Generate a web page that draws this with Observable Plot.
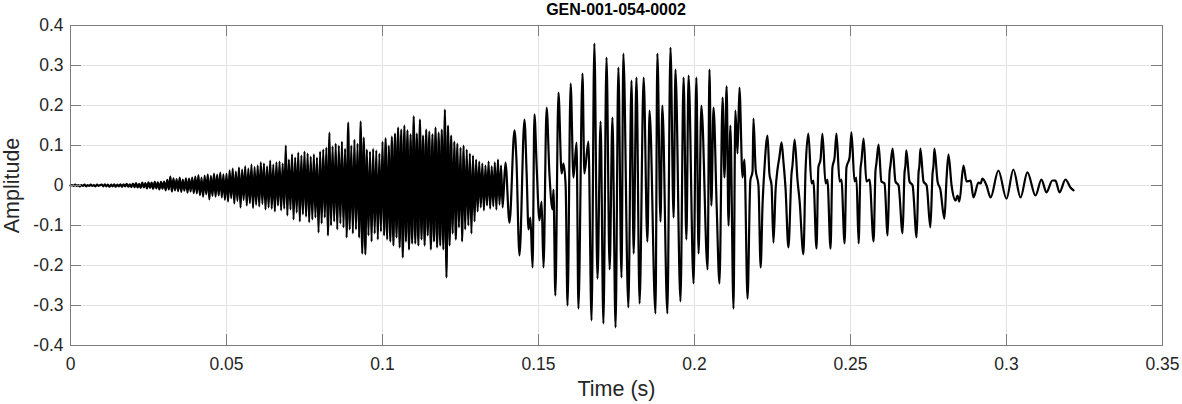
<!DOCTYPE html>
<html>
<head>
<meta charset="utf-8">
<script src="https://cdn.jsdelivr.net/npm/d3@7"></script>
<script src="https://cdn.jsdelivr.net/npm/@observablehq/plot@0.6"></script>
<style>
  body { margin: 0; background: #fff; font-family: "Liberation Sans", Arial, sans-serif; }
  #title { width: 1182px; height: 20px; line-height: 20px; padding-left: 50px; box-sizing: border-box;
           text-align: center; font-weight: bold; font-size: 16px; color: #000; position: relative; z-index: 1; }
  #chart svg { display: block; overflow: visible; }
</style>
</head>
<body>
<div id="title"></div>
<div id="chart"></div>
<script>
const chartTitle = "GEN-001-054-0002";
const xLabel = "Time (s)";
const yLabel = "Amplitude";

const xTicks = [0, 0.05, 0.1, 0.15, 0.2, 0.25, 0.3, 0.35];
const xTickLabels = ["0", "0.05", "0.1", "0.15", "0.2", "0.25", "0.3", "0.35"];
const yTicks = [-0.4, -0.3, -0.2, -0.1, 0, 0.1, 0.2, 0.3, 0.4];
const yTickLabels = ["-0.4", "-0.3", "-0.2", "-0.1", "0", "0.1", "0.2", "0.3", "0.4"];

// Unvoiced / noisy part: samples every 0.5 ms starting at t = 0
const noiseStep = 0.0005;
const noiseAmp = [
  0,0.001,-0.001,0.002,-0.001,0.001,-0.002,0.001,-0.001,0.002,-0.002,0.001,-0.001,0.002,-0.001,0.001,-0.002,0.002,-0.001,0.001,
  0.002,-0.002,0.003,-0.002,0.002,-0.003,0.002,-0.002,0.003,-0.003,0.002,-0.002,0.003,-0.003,0.003,-0.002,0.004,-0.003,0.003,-0.004,
  0.005,-0.004,0.006,-0.005,0.004,-0.006,0.007,-0.005,0.006,-0.007,0.008,-0.006,0.007,-0.008,0.009,-0.007,0.008,-0.010,0.009,-0.008,
  0.010,-0.012,0.014,-0.010,0.022,-0.015,0.018,-0.012,0.016,-0.014,0.020,-0.016,0.015,-0.013,0.018,-0.018,0.017,-0.015,0.020,-0.019,
  0.022,-0.020,0.026,-0.024,0.020,-0.028,0.025,-0.022,0.028,-0.035,0.024,-0.026,0.030,-0.028,0.027,-0.025,0.032,-0.030,0.028,-0.036,
  0.030,-0.040,0.038,-0.032,0.042,-0.045,0.035,-0.038,0.045,-0.055,0.040,-0.036,0.048,-0.050,0.042,-0.044,0.052,-0.056,0.046,-0.048,
  0.050,-0.052,0.058,-0.046,0.055,-0.060,0.048,-0.055,0.062,-0.058,0.052,-0.065,0.058,-0.050,0.060,-0.062,0.055,-0.058,0.100,-0.075,
  0.065,-0.060,0.078,-0.085,0.070,-0.068,0.082,-0.090,0.075,-0.072,0.085,-0.078,0.080,-0.092,0.072,-0.085,0.078,-0.080,0.070,-0.118,
  0.085,-0.095,0.090,-0.080,0.095,-0.125,0.132,-0.100,0.098,-0.090,0.105,-0.110,0.100,-0.095,0.110,-0.105,0.092,-0.130,0.157,-0.110,
  0.100,-0.120,0.115,-0.110,0.105,-0.130,0.160,-0.170,0.120,-0.172,0.090,-0.125,0.085,-0.140,0.092,-0.120,0.088,-0.135,0.080,-0.115,
  0.110,-0.125,0.118,-0.135,0.100,-0.140,0.122,-0.150,0.130,-0.130,0.145,-0.155,0.140,-0.180,0.150,-0.140,0.138,-0.160,0.128,-0.145,
  0.173,-0.145,0.130,-0.150,0.165,-0.135,0.125,-0.150,0.140,-0.125,0.135,-0.160,0.128,-0.140,0.145,-0.155,0.132,-0.150,0.140,-0.160,
  0.190,-0.230,0.150,-0.150,0.125,-0.120,0.110,-0.135,0.105,-0.105,0.095,-0.140,0.100,-0.110,0.090,-0.100,0.080,-0.120,0.075,-0.090,
  0.065,-0.065,0.060,-0.055,0.055,-0.062,0.050,-0.050,0.060,-0.058,0.048,-0.052,0.058,-0.060,0.065,-0.048,0.050,-0.055
];

// Voiced part: turning points (time in s, amplitude)
const voicedTime = [
  0.1394,0.1407,0.1423,0.1429,0.1439,0.1455,0.1462,0.1468,0.1474,0.1481,
  0.1487,0.1494,0.1503,0.1510,0.1516,0.1526,0.1535,0.1545,0.1548,0.1554,
  0.1564,0.1574,0.1580,0.1587,0.1593,0.1603,0.1612,0.1622,0.1628,0.1641,
  0.1647,0.1660,0.1670,0.1679,0.1689,0.1699,0.1708,0.1718,0.1728,0.1737,
  0.1747,0.1756,0.1766,0.1772,0.1788,0.1798,0.1805,0.1814,0.1824,0.1837,
  0.1849,0.1856,0.1875,0.1881,0.1891,0.1897,0.1913,0.1923,0.1933,0.1939,
  0.1955,0.1965,0.1974,0.1981,0.1997,0.2006,0.2013,0.2022,0.2042,0.2048,
  0.2054,0.2061,0.2071,0.2080,0.2090,0.2096,0.2103,0.2109,0.2115,0.2125,
  0.2131,0.2138,0.2144,0.2154,0.2160,0.2170,0.2179,0.2186,0.2189,0.2196,
  0.2205,0.2212,0.2218,0.2224,0.2234,0.2240,0.2247,0.2253,0.2260,0.2266,
  0.2272,0.2279,0.2285,0.2292,0.2301,0.2311,0.2314,0.2321,0.2330,0.2337,
  0.2349,0.2356,0.2365,0.2375,0.2381,0.2391,0.2397,0.2404,0.2410,0.2420,
  0.2426,0.2436,0.2442,0.2449,0.2455,0.2465,0.2471,0.2481,0.2487,0.2497,
  0.2503,0.2513,0.2519,0.2526,0.2532,0.2535,0.2542,0.2551,0.2561,0.2574,
  0.2580,0.2583,0.2590,0.2599,0.2609,0.2619,0.2625,0.2628,0.2635,0.2644,
  0.2654,0.2667,0.2673,0.2676,0.2679,0.2689,0.2699,0.2712,0.2718,0.2721,
  0.2724,0.2734,0.2744,0.2756,0.2763,0.2766,0.2769,0.2779,0.2788,0.2801,
  0.2808,0.2814,0.2824,0.2837,0.2843,0.2849,0.2862,0.2872,0.2885,0.2894,
  0.2910,0.2917,0.2923,0.2936,0.2949,0.2974,0.3000,0.3022,0.3045,0.3067,
  0.3093,0.3112,0.3128,0.3147,0.3157,0.3170,0.3189,0.3205,0.3215
];
const voicedAmp = [
  0.057,-0.093,0.138,0.070,-0.175,0.165,0.030,-0.110,-0.080,-0.205,
  0.178,0.050,-0.087,-0.040,-0.205,0.195,0.030,-0.060,-0.010,-0.275,
  0.232,0.030,0.055,0.000,-0.300,0.255,0.020,0.107,-0.308,0.280,
  0.030,0.110,-0.337,0.355,-0.233,0.160,-0.345,0.320,-0.210,0.170,
  -0.355,0.295,-0.230,0.330,-0.305,0.262,-0.170,0.270,-0.295,0.270,
  -0.140,0.187,-0.320,0.330,-0.090,0.200,-0.320,0.345,-0.080,0.290,
  -0.290,0.270,-0.135,0.275,-0.245,0.270,-0.170,0.200,-0.210,0.290,
  -0.050,0.195,-0.050,-0.245,0.220,0.020,0.248,-0.100,0.150,-0.308,
  0.187,0.080,0.245,0.020,0.065,-0.283,0.012,0.035,0.167,0.040,
  0.000,-0.205,-0.050,0.040,0.125,0.030,0.000,-0.143,-0.010,0.040,
  0.070,0.108,0.060,-0.010,-0.155,0.030,0.050,0.115,0.015,-0.040,
  -0.172,0.040,0.130,0.005,0.012,-0.158,0.045,0.065,0.130,0.005,
  0.015,-0.158,0.045,0.070,0.130,0.010,0.015,-0.145,0.045,0.070,
  0.133,0.010,0.020,-0.145,0.040,0.060,0.117,0.010,0.015,-0.140,
  0.035,0.055,0.102,0.010,0.005,-0.125,0.030,0.050,0.092,0.010,
  0.000,-0.120,0.030,0.050,0.088,0.010,0.000,-0.130,0.030,0.050,
  0.092,0.010,0.000,-0.105,0.030,0.050,0.092,0.010,-0.010,-0.083,
  0.020,0.077,0.000,-0.0375,-0.025,-0.040,0.050,0.010,0.012,-0.030,
  0.0075,0.005,0.017,0.000,-0.030,0.0375,-0.033,0.040,-0.030,0.033,
  -0.025,0.015,-0.017,0.0125,0.012,-0.017,0.015,-0.005,-0.012
];

const signal = [
  ...noiseAmp.map((a, i) => ({t: i * noiseStep, a})),
  ...voicedTime.map((t, i) => ({t, a: voicedAmp[i]}))
];

document.getElementById("title").textContent = chartTitle;

const gridColor = "#e2e2e2";
const boxColor = "#7d7d7d";
const textColor = "#262626";

const plot = Plot.plot({
  width: 1182,
  height: 384,
  marginTop: 5,
  marginBottom: 59,
  marginLeft: 70,
  marginRight: 20,
  style: {fontFamily: "'Liberation Sans', Arial, sans-serif", fontSize: "17.5px", color: textColor, background: "#fff", overflow: "visible"},
  x: {domain: [0, 0.35]},
  y: {domain: [-0.4, 0.4]},
  marks: [
    Plot.ruleX(xTicks, {stroke: gridColor, strokeWidth: 1}),
    Plot.ruleY(yTicks, {stroke: gridColor, strokeWidth: 1}),
    Plot.line(signal, {x: "t", y: "a", stroke: "#000", strokeWidth: 2.2, curve: "monotone-x"}),
    Plot.frame({stroke: boxColor, strokeWidth: 1}),
    Plot.tickX(xTicks, {insetTop: 309, stroke: boxColor}),
    Plot.tickX(xTicks, {insetBottom: 309, stroke: boxColor}),
    Plot.tickY(yTicks, {insetRight: 1081, stroke: boxColor}),
    Plot.tickY(yTicks, {insetLeft: 1081, stroke: boxColor}),
    Plot.axisX({ticks: xTicks, tickFormat: d => xTickLabels[xTicks.indexOf(d)], tickSize: 0, tickPadding: 12, label: null, fontSize: 17.5}),
    Plot.axisY({ticks: yTicks, tickFormat: d => yTickLabels[yTicks.indexOf(d)], tickSize: 0, tickPadding: 7, label: null, fontSize: 17.5}),
    Plot.text([xLabel], {frameAnchor: "bottom", lineAnchor: "middle", textAnchor: "middle", dy: 44, fontSize: 21.5, fill: textColor}),
    Plot.text([yLabel], {frameAnchor: "left", lineAnchor: "middle", textAnchor: "middle", rotate: -90, dx: -58, fontSize: 21.5, fill: textColor})
  ]
});
document.getElementById("chart").appendChild(plot);
</script>
</body>
</html>
